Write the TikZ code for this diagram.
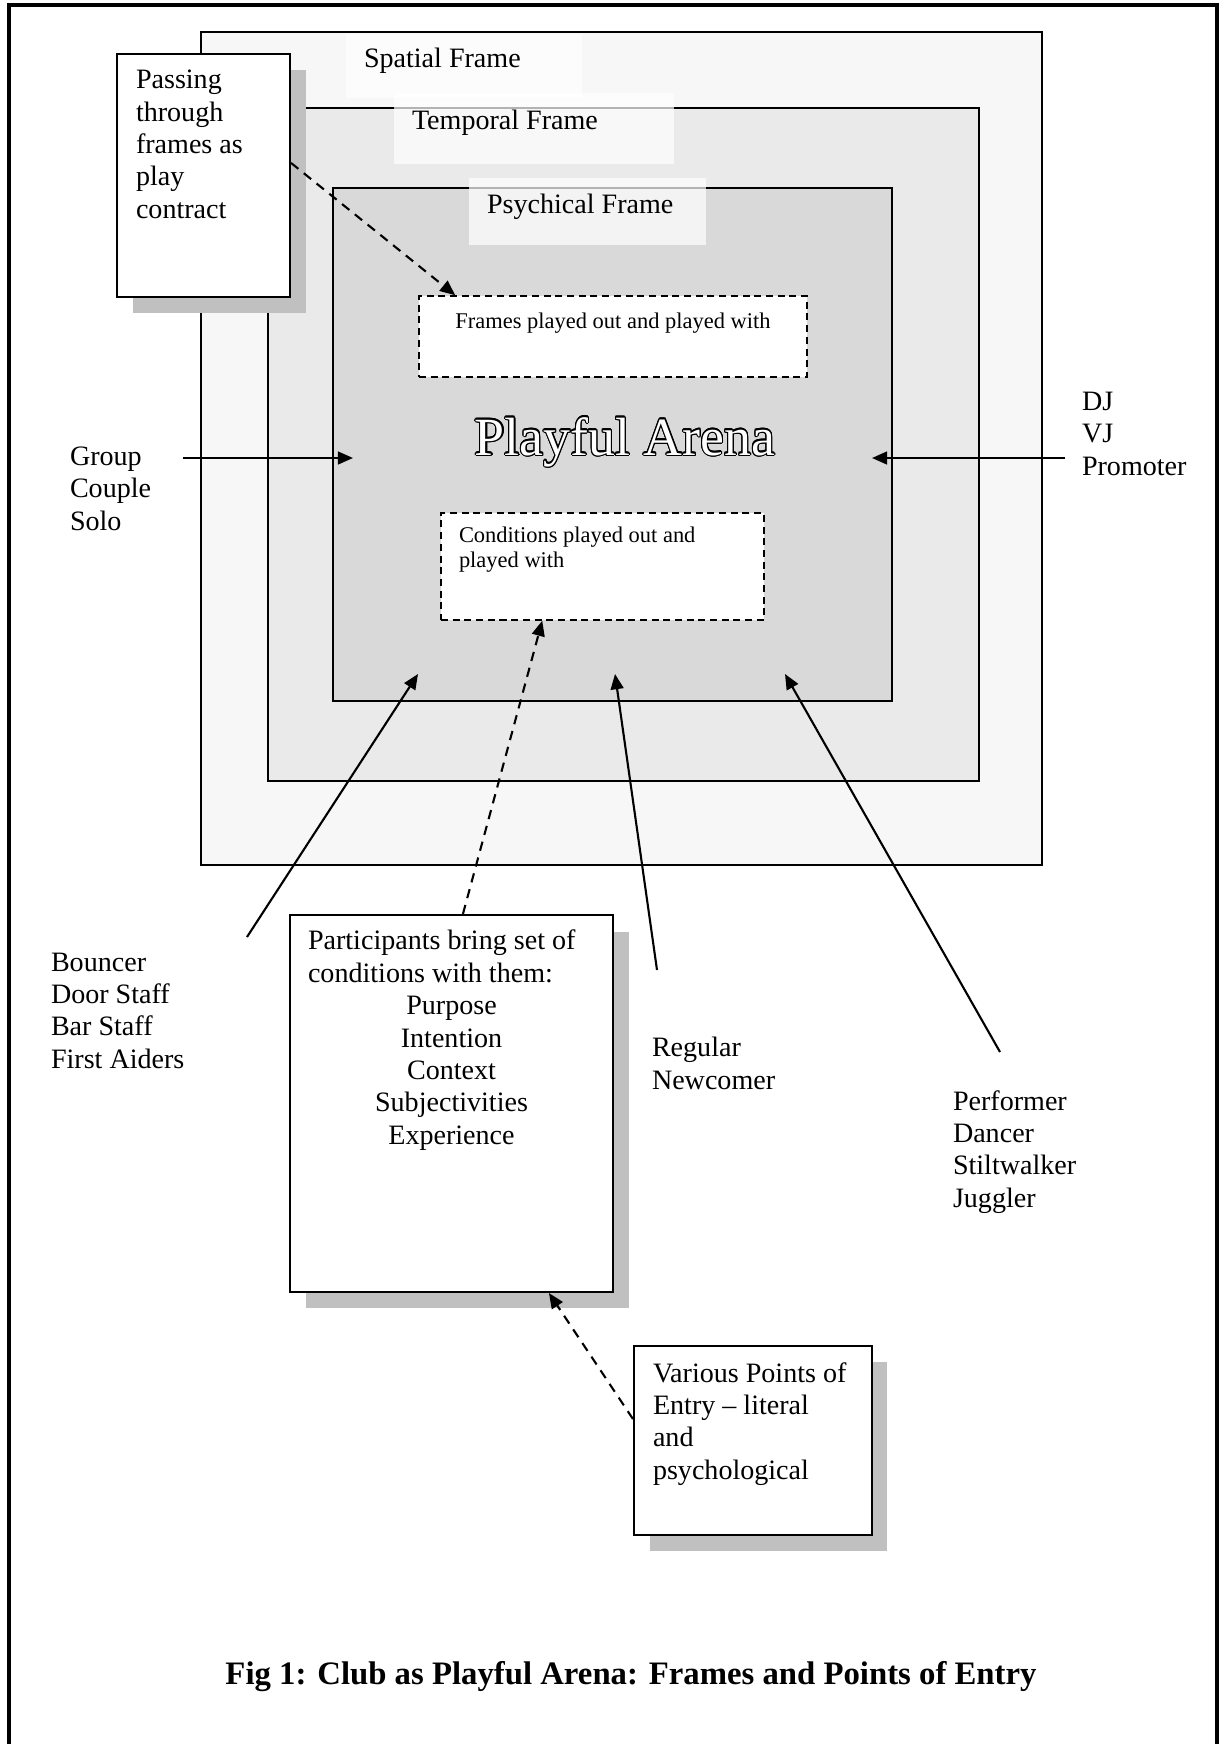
\documentclass[tikz,border=0pt]{standalone}
\usepackage{fontspec}
\setmainfont{Liberation Serif}
\usepackage{contour}
\contourlength{0.55pt}
\usetikzlibrary{arrows.meta,fit,calc}
\definecolor{spatialfill}{HTML}{F7F7F7}
\definecolor{temporalfill}{HTML}{EAEAEA}
\definecolor{psychfill}{HTML}{D9D9D9}
\definecolor{shadowgray}{HTML}{C0C0C0}
\begin{document}
\begin{tikzpicture}[x=0.4274pt, y=-0.4274pt, font=\fontsize{12}{13.8}\selectfont,
  frame/.style={draw=black, line width=0.65pt, inner sep=0pt, outer sep=0pt},
  lbl/.style={fill=white, fill opacity=0.7, inner sep=0pt, outer sep=0pt},
  txt/.style={inner sep=0pt, outer sep=0pt, align=left},
  dbox/.style={draw, fill=white, dash pattern=on 3pt off 2pt, line width=0.65pt, inner sep=0pt},
  sbox/.style={draw, fill=white, line width=0.9pt, inner sep=0pt},
  shade/.style={fill=shadowgray, inner sep=0pt},
  arr/.style={line width=0.9pt, -{Triangle[length=6.5pt,width=5.5pt]}},
  darr/.style={arr, dash pattern=on 4pt off 3pt}]
\useasboundingbox (0,0) rectangle (1227,1744);
% outer border
\draw[line width=1.5pt] (9,1750) -- (9,5) -- (1217,5) -- (1217,1750);
% frames
\node[frame, fill=spatialfill, fit={(201,32) (1042,865)}] (spatial) {};
\node[frame, fill=temporalfill, fit={(268,108) (979,781)}] (temporal) {};
\node[frame, fill=psychfill, fit={(333,188) (892,701)}] (psych) {};
\node[lbl, fit={(346,34) (582,98)}] (spatlbl) {};
\node[lbl, fit={(394,93) (674,164)}] (templbl) {};
\node[lbl, fit={(469,178) (706,245)}] (psychlbl) {};
\node[txt, anchor=base west] (spattxt) at (364,67) {Spatial Frame};
\node[txt, anchor=base west] (temptxt) at (412,129) {Temporal Frame};
\node[txt, anchor=base west] (psychtxt) at (487,213) {Psychical Frame};
% inner dashed boxes
\node[dbox, fit={(419,296) (807,377)}] (frames) {};
\node[txt, anchor=base, font=\fontsize{9.6}{11}\selectfont] (framestxt) at (613,328) {Frames played out and played with};
\node[dbox, fit={(441,513) (764,620)}] (cond) {};
\node[txt, anchor=base west, font=\fontsize{9.6}{10.3}\selectfont] (condtxt) at (459,567) {Conditions played out and\\played with};
\node[txt, anchor=base, font=\fontsize{23}{27}\selectfont] (arena) at (625,455) {\contour{black}{\textcolor{white}{Playful Arena}}};
% passing box
\node[shade, fit={(133,70) (306,313)}] (passshadow) {};
\node[sbox, fit={(117,54) (290,297)}] (pass) {};
\node[txt, anchor=base west] (passtxt) at (136,218) {Passing\\through\\frames as\\play\\contract};
% participants box
\node[shade, fit={(306,932) (629,1308)}] (partshadow) {};
\node[sbox, fit={(290,915) (613,1292)}] (part) {};
\node[txt, anchor=base west] (parttxt) at (308,982) {Participants bring set of\\conditions with them:};
\node[txt, align=center, anchor=base] (partlist) at (451.5,1144) {Purpose\\Intention\\Context\\Subjectivities\\Experience};
% various box
\node[shade, fit={(650,1362) (887,1551)}] (varshadow) {};
\node[sbox, fit={(634,1346) (872,1535)}] (var) {};
\node[txt, anchor=base west] (vartxt) at (653,1479) {Various Points of\\Entry – literal\\and\\psychological};
% outside labels
\node[txt, anchor=base west] (group) at (70,530) {Group\\Couple\\Solo};
\node[txt, anchor=base west] (dj) at (1082,475) {DJ\\VJ\\Promoter};
\node[txt, anchor=base west] (bouncer) at (51,1068) {Bouncer\\Door Staff\\Bar Staff\\First Aiders};
\node[txt, anchor=base west] (regular) at (652,1089) {Regular\\Newcomer};
\node[txt, anchor=base west] (performer) at (953,1207) {Performer\\Dancer\\Stiltwalker\\Juggler};
% arrow end points
\coordinate (grpS) at (183,458); \coordinate (grpE) at (353,458);
\coordinate (djS) at (1065,458); \coordinate (djE) at (872,458);
\coordinate (bncS) at (247,937); \coordinate (bncE) at (418,674);
\coordinate (regS) at (657,970); \coordinate (regE) at (615,674);
\coordinate (perfS) at (1000,1052); \coordinate (perfE) at (785,674);
\draw[arr] (grpS) -- (grpE);
\draw[arr] (djS) -- (djE);
\draw[arr] (bncS) -- (bncE);
\draw[arr] (regS) -- (regE);
\draw[arr] (perfS) -- (perfE);
\draw[darr] ($(pass.north east)+(0,110)$) -- ($(frames.north west)+(37,0)$);
\draw[darr] ($(part.north west)+(174,0)$) -- ($(cond.south west)+(102,0)$);
\draw[darr] ($(var.north west)+(0,74)$) -- ($(part.south west)+(260,0)$);
% caption
\node[txt, anchor=base, font=\bfseries\fontsize{14}{16}\selectfont] (caption) at (631,1684) {Fig 1: Club as Playful Arena: Frames and Points of Entry};
\end{tikzpicture}
\end{document}
